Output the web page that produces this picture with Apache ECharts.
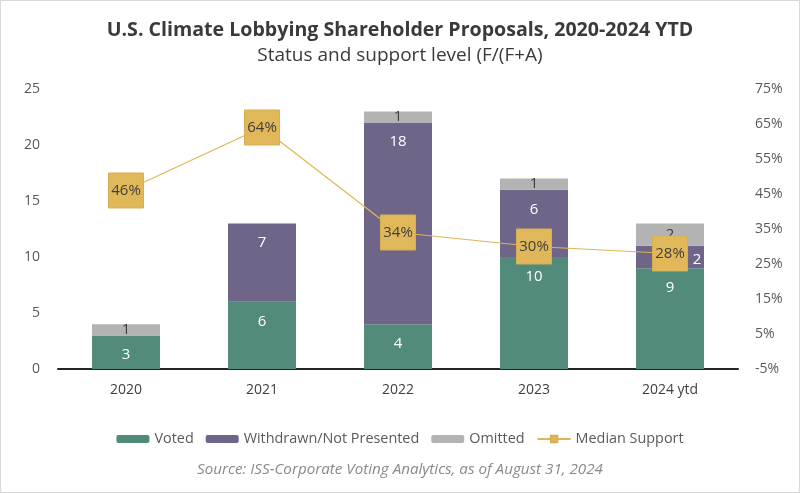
<!DOCTYPE html>
<html><head><meta charset="utf-8">
<script src="https://cdn.jsdelivr.net/npm/echarts@6/dist/echarts.min.js"></script>
<style>html,body{margin:0;padding:0;background:#fff}#c{width:800px;height:493px}</style>
</head><body><div id="c"></div>
<script>
const categories = ['2020', '2021', '2022', '2023', '2024 ytd'];
const voted = [3, 6, 4, 10, 9];
const withdrawn = [0, 7, 18, 6, 2];
const omitted = [1, 0, 1, 1, 2];
const medianSupport = [46, 64, 34, 30, 28];

const FONT = '"Open Sans", "Noto Sans", sans-serif';
const hideZero = p => (p.value === 0 ? '' : String(p.value));

const chart = echarts.init(document.getElementById('c'));
chart.setOption({
  animation: false,
  textStyle: { fontFamily: FONT },
  title: [
    { text: 'U.S. Climate Lobbying Shareholder Proposals, 2020-2024 YTD', left: 'center', top: 15,
      textStyle: { fontFamily: FONT, fontSize: 19.6, fontWeight: 'bold', color: '#3a3a3a' } },
    { text: 'Status and support level (F/(F+A)', left: 'center', top: 41,
      textStyle: { fontFamily: FONT, fontSize: 19, fontWeight: 'normal', color: '#3a3a3a' } },
    { text: 'Source: ISS-Corporate Voting Analytics, as of August 31, 2024', left: 'center', top: 457,
      textStyle: { fontFamily: FONT, fontSize: 15.2, fontStyle: 'italic', fontWeight: 'normal', color: '#8a8a8a' } }
  ],
  graphic: [{ type: 'rect', shape: { x: 0.5, y: 0.5, width: 799, height: 492 }, style: { fill: 'none', stroke: '#d9d9d9', lineWidth: 1 }, silent: true }],
  legend: {
    top: 427, left: 'center', itemWidth: 33, itemHeight: 8, itemGap: 12,
    textStyle: { fontFamily: FONT, fontSize: 14.4, color: '#595959' },
    data: ['Voted', 'Withdrawn/Not Presented', 'Omitted', 'Median Support']
  },
  grid: { left: 58, right: 62, top: 89, bottom: 124 },
  xAxis: {
    type: 'category', data: categories,
    axisLine: { lineStyle: { color: '#262626', width: 2 } },
    axisTick: { show: false },
    axisLabel: { fontFamily: FONT, fontSize: 14, color: '#404040', margin: 14 }
  },
  yAxis: [
    { type: 'value', min: 0, max: 25, interval: 5, splitLine: { show: false },
      axisLabel: { fontFamily: FONT, fontSize: 14, color: '#595959', margin: 18 } },
    { type: 'value', min: -5, max: 75, interval: 10, splitLine: { show: false },
      axisLabel: { fontFamily: FONT, fontSize: 14, color: '#595959', margin: 17, formatter: v => v + '%' } }
  ],
  series: [
    { name: 'Voted', type: 'bar', stack: 's', barWidth: '50%', data: voted,
      itemStyle: { color: '#528a7b' },
      label: { show: true, position: 'insideTop', distance: 12, color: '#fff', fontSize: 15, fontFamily: FONT, formatter: hideZero } },
    { name: 'Withdrawn/Not Presented', type: 'bar', stack: 's', data: withdrawn.map((v, i) =>
        i === 4 ? { value: v, label: { position: 'inside', offset: [27, 3] } } : v),
      itemStyle: { color: '#6e6589' },
      label: { show: true, position: 'insideTop', distance: 12, color: '#fff', fontSize: 15, fontFamily: FONT, formatter: hideZero } },
    { name: 'Omitted', type: 'bar', stack: 's', data: omitted,
      itemStyle: { color: '#b3b3b3' },
      label: { show: true, position: 'inside', color: '#404040', fontSize: 15, fontFamily: FONT, formatter: hideZero } },
    { name: 'Median Support', type: 'line', yAxisIndex: 1, data: medianSupport, z: 10,
      symbol: 'rect', symbolSize: 35,
      lineStyle: { color: '#e0b556', width: 1.2 },
      itemStyle: { color: '#e0b85a', borderColor: '#d8ae52', borderWidth: 1 },
      label: { show: true, position: 'inside', color: '#404040', fontSize: 15, fontFamily: FONT, formatter: p => p.value + '%' } }
  ]
});
</script></body></html>
